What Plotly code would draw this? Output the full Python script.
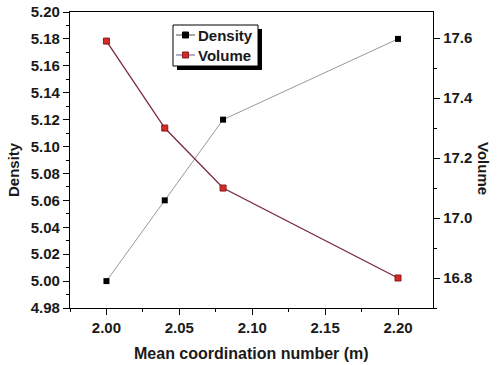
import plotly.graph_objects as go

coord = [2.00, 2.04, 2.08, 2.20]
density = [5.00, 5.06, 5.12, 5.18]
volume = [17.59, 17.30, 17.10, 16.80]
legend_names = ["Density", "Volume"]

FONT = "Liberation Sans"
TXT = "#1a1a1a"
W, H = 500, 365
L, R, T, B = 70, 67, 12, 57
pw, ph = W - L - R, H - T - B


def px(x):
    return (x - L) / pw


def py(y):
    return (H - B - y) / ph


fig = go.Figure()
fig.add_trace(go.Scatter(
    x=coord, y=density, name="Density", mode="lines+markers",
    line=dict(color="#9a9a9a", width=1),
    marker=dict(symbol="square", size=6, color="black"),
))
fig.add_trace(go.Scatter(
    x=coord, y=volume, name="Volume", mode="lines+markers", yaxis="y2",
    line=dict(color="#7a2a3a", width=1.3),
    marker=dict(symbol="square", size=6, color="#d42a2a", line=dict(color="#8b1a1a", width=1)),
))

axis_common = dict(
    showline=True, linecolor="black", linewidth=1.3,
    ticks="outside", ticklen=6, tickwidth=1.3, tickcolor="black",
    showgrid=False, zeroline=False, automargin=False, ticklabeloverflow="allow",
    tickfont=dict(family=FONT, size=15, color=TXT),
)

# custom legend with drop shadow
lx0, lx1, ly0, ly1 = 173, 258, 25, 66
shapes = [
    dict(type="rect", xref="paper", yref="paper", x0=px(lx0 + 4), x1=px(lx1 + 4), y0=py(ly0 + 4), y1=py(ly1 + 4),
         fillcolor="black", line=dict(width=0)),
    dict(type="rect", xref="paper", yref="paper", x0=px(lx0), x1=px(lx1), y0=py(ly0), y1=py(ly1),
         fillcolor="white", line=dict(color="black", width=1)),
]
leg_rows = [(35, "#555555", "black", "black"), (55, "#6a5a9a", "#d42a2a", "#8b1a1a")]
annotations = []
for (ry, lc, mc, mlc), name in zip(leg_rows, legend_names):
    shapes.append(dict(type="line", xref="paper", yref="paper", x0=px(176), x1=px(195), y0=py(ry), y1=py(ry),
                       line=dict(color=lc, width=1)))
    shapes.append(dict(type="rect", xref="paper", yref="paper", x0=px(182.5), x1=px(188.5), y0=py(ry - 3), y1=py(ry + 3),
                       fillcolor=mc, line=dict(color=mlc, width=1)))
    annotations.append(dict(text="<b>%s</b>" % name, xref="paper", yref="paper", x=px(196), y=py(ry),
                            xanchor="left", yanchor="middle", showarrow=False,
                            font=dict(family=FONT, size=15, color=TXT)))

annotations += [
    dict(text="<b>Volume</b>", xref="paper", yref="paper", x=px(483), y=py(168),
         xanchor="center", yanchor="middle",
         textangle=90, showarrow=False, font=dict(family=FONT, size=15, color=TXT)),
    dict(text="<b>Density</b>", xref="paper", yref="paper", x=px(13), y=py(170),
         xanchor="center", yanchor="middle",
         textangle=-90, showarrow=False, font=dict(family=FONT, size=15, color=TXT)),
    dict(text="<b>Mean coordination number (m)</b>", xref="paper", yref="paper", x=px(252), y=py(353),
         xanchor="center", yanchor="middle",
         showarrow=False, font=dict(family=FONT, size=16, color=TXT)),
]

fig.update_layout(
    width=W, height=H,
    margin=dict(l=L, r=R, t=T, b=B),
    plot_bgcolor="white", paper_bgcolor="white",
    showlegend=False,
    xaxis=dict(
        range=[1.975, 2.224], tickvals=[2.00, 2.05, 2.10, 2.15, 2.20],
        ticktext=["<b>2.00</b>", "<b>2.05</b>", "<b>2.10</b>", "<b>2.15</b>", "<b>2.20</b>"],
        mirror=True,
        minor=dict(dtick=0.025, tick0=2.0, ticks="outside", ticklen=3, tickcolor="black", tickwidth=1.2),
        **axis_common,
    ),
    yaxis=dict(
        range=[4.98, 5.20], dtick=0.02, tick0=4.98, tickformat=".2f",
        tickprefix="<b>", ticksuffix="</b>",
        minor=dict(dtick=0.01, ticks="outside", ticklen=3, tickcolor="black", tickwidth=1.2),
        **axis_common,
    ),
    yaxis2=dict(
        overlaying="y", side="right", range=[16.7, 17.687], dtick=0.2, tick0=16.8, tickformat=".1f",
        tickprefix="<b>", ticksuffix="</b>",
        minor=dict(dtick=0.1, ticks="outside", ticklen=3, tickcolor="black", tickwidth=1.2),
        **axis_common,
    ),
    shapes=shapes,
    annotations=annotations,
)

fig.write_html("out.html", config={"displayModeBar": False},
               post_script="document.body.style.margin='0';")
